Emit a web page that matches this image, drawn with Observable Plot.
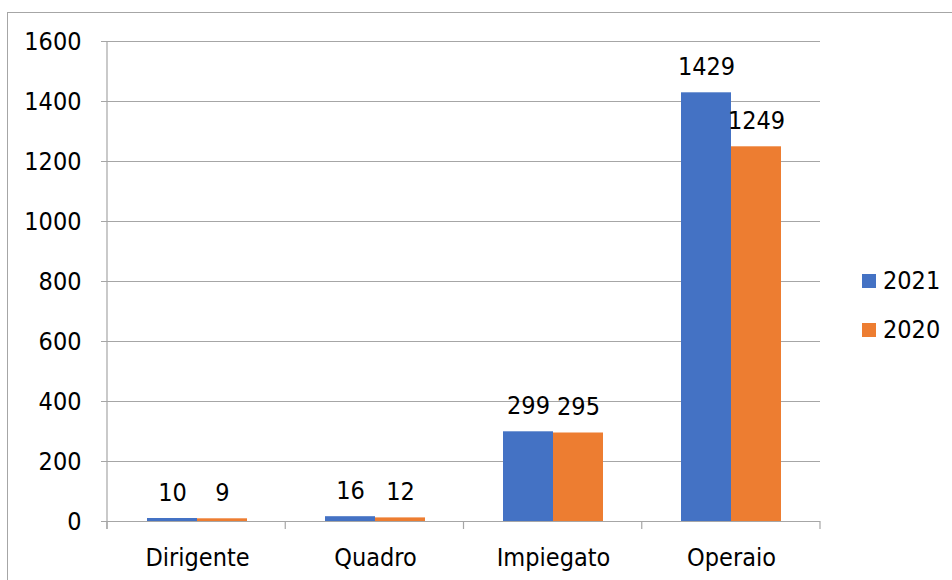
<!DOCTYPE html>
<html>
<head>
<meta charset="utf-8">
<script src="https://cdn.jsdelivr.net/npm/d3@7"></script>
<script src="https://cdn.jsdelivr.net/npm/@observablehq/plot@0.6"></script>
<style>
  html, body { margin: 0; padding: 0; background: #fff; overflow: hidden; }
  #wrap { position: relative; width: 952px; height: 580px; font-family: "DejaVu Sans Condensed", "DejaVu Sans", sans-serif; font-stretch: condensed; }
  #border { position: absolute; left: 7px; top: 12px; width: 1200px; height: 1200px; border: 1px solid #a6a6a6; box-sizing: border-box; }
  #legend { position: absolute; left: 862px; top: 256px; font-size: 25px; color: #000; }
  .item { display: flex; align-items: center; height: 49px; }
  .sw { width: 14px; height: 14px; margin-right: 7px; }
  svg { position: absolute; left: 0; top: 0; }
</style>
</head>
<body>
<div id="wrap"><div id="border"></div><div id="legend"></div></div>
<script>
const categories = ["Dirigente", "Quadro", "Impiegato", "Operaio"];
const years = ["2021", "2020"];
const values2021 = [10, 16, 299, 1429];
const values2020 = [9, 12, 295, 1249];
const yTicks = [0, 200, 400, 600, 800, 1000, 1200, 1400, 1600];
const colors = ["#4472C4", "#ED7D31"];
const gridColor = "#a6a6a6";

const data = categories.flatMap((c, i) => [
  {category: c, year: years[0], value: values2021[i]},
  {category: c, year: years[1], value: values2020[i]}
]);

const chart = Plot.plot({
  width: 952,
  height: 580,
  marginLeft: 107,
  marginRight: 132,
  marginTop: 41,
  marginBottom: 59,
  style: {
    fontFamily: '"DejaVu Sans Condensed", "DejaVu Sans", sans-serif',
    fontStretch: "condensed",
    fontSize: "25px",
    color: "#000",
    background: "transparent",
    overflow: "visible"
  },
  fx: {domain: categories, padding: 0, label: null, axis: "bottom", tickSize: 0, tickPadding: 27},
  x: {domain: years, paddingInner: 0, paddingOuter: 0.76, axis: null},
  y: {domain: [0, 1600], ticks: yTicks, tickSize: 7, tickPadding: 20, label: null, tickFormat: d => String(d)},
  color: {domain: years, range: colors},
  marks: [
    Plot.ruleY(yTicks, {stroke: gridColor, strokeWidth: 1.2}),
    Plot.barY(data, {fx: "category", x: "year", y: "value", fill: "year"}),
    Plot.text(data, {fx: "category", x: "year", y: "value", text: d => String(d.value), dy: -26, fontSize: 25, fill: "#000"})
  ]
});

// Recolour y ticks
d3.select(chart).selectAll("[aria-label^='y-axis'] line, [aria-label^='y-axis'] path").attr("stroke", gridColor);

// Axis line and category boundary ticks from the scales
const fx = chart.scale("fx");
const ys = chart.scale("y");
const [r0, r1] = fx.range;
const step = (r1 - r0) / fx.domain.length;
const yBase = ys.range[0];
const yTop = ys.range[1];
const g = d3.select(chart).append("g").attr("stroke", gridColor).attr("stroke-width", 1.2);
g.append("line").attr("x1", r0).attr("x2", r0).attr("y1", yTop).attr("y2", yBase + 8);
for (let i = 0; i <= fx.domain.length; i++) {
  const xx = r0 + i * step;
  g.append("line").attr("x1", xx).attr("x2", xx).attr("y1", yBase).attr("y2", yBase + 8);
}

document.getElementById("wrap").appendChild(chart);

const legend = document.getElementById("legend");
years.forEach((y, i) => {
  const it = document.createElement("div");
  it.className = "item";
  it.innerHTML = `<div class="sw" style="background:${colors[i]}"></div><span>${y}</span>`;
  legend.appendChild(it);
});
</script>
</body>
</html>
